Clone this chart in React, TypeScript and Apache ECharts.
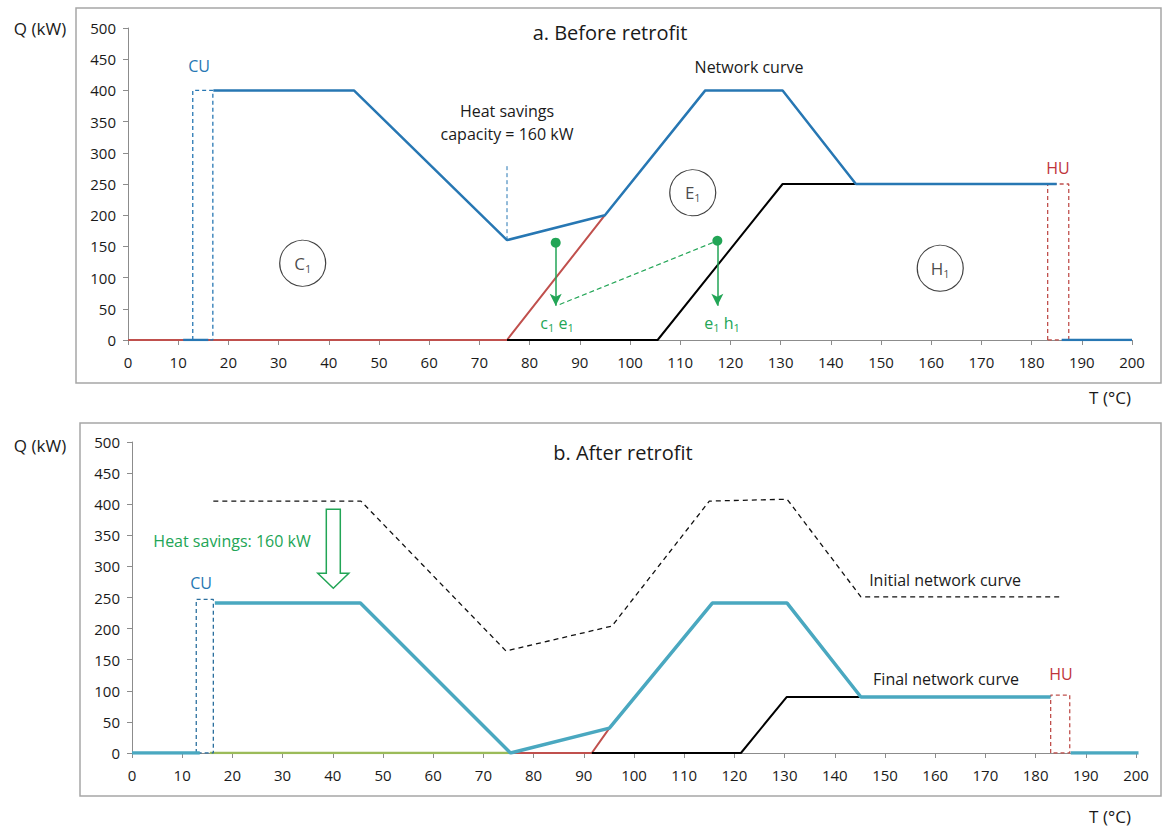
import React, { useEffect, useRef } from "react";
import * as echarts from "echarts";

// ---------- Panel a: Before retrofit ----------
const aNetworkT = [17, 45, 75.5, 95, 115, 130.4, 145, 185];
const aNetworkQ = [400, 400, 160, 200, 400, 400, 250, 250];
const aColdT = [0, 75.5, 95];
const aColdQ = [0, 0, 200];
const aHotT = [75.5, 105.5, 130.4, 145];
const aHotQ = [0, 0, 250, 250];
const aCuT = [12.9, 12.9, 16.9, 16.9, 12.9];
const aCuQ = [0, 400, 400, 0, 0];
const aHuT = [183.2, 183.2, 187.4, 187.4, 183.2];
const aHuQ = [0, 250, 250, 0, 0];
const aZeroLowT = [11, 16];
const aZeroHighT = [186, 200];
const aSavingT = [75.5, 75.5];
const aSavingQ = [160, 283];
const aMoveT = [85.2, 117.4];
const aMoveFromQ = [156, 159];
const aMoveToQ = [55, 55];
const aLinkT = [86, 117.4];
const aLinkQ = [57, 159];
const aZoneLetters = ["C", "E", "H"];
const aZoneT = [34.8, 112.5, 161.8];
const aZoneQ = [123, 236, 115];

// ---------- Panel b: After retrofit ----------
const bInitialT = [16.2, 45.6, 74.5, 95.6, 115, 130.5, 145.2, 185.4];
const bInitialQ = [405, 405, 164, 204, 405, 408, 251, 251];
const bFinalT = [16.5, 45.5, 75.4, 95.1, 115.6, 130.5, 145.2, 183];
const bFinalQ = [241, 241, 0, 40, 241, 241, 90, 90];
const bZeroLowT = [0, 13.5];
const bZeroHighT = [187, 200.5];
const bColdLowT = [15.5, 75.4];
const bColdT = [75.4, 91.6, 95.1];
const bColdQ = [0, 0, 40];
const bHotT = [91.6, 121.3, 130.4, 145.2];
const bHotQ = [0, 0, 90, 90];
const bCuT = [12.8, 12.8, 16.2, 16.2, 12.8];
const bCuQ = [0, 247, 247, 0, 0];
const bHuT = [183, 183, 186.8, 186.8, 183];
const bHuQ = [0, 93, 93, 0, 0];
const bSavingArrow = [40.1, 392, 289, 265]; // T, top, head base, tip

const yTicks = [0, 50, 100, 150, 200, 250, 300, 350, 400, 450, 500];
const xTicks = [0, 10, 20, 30, 40, 50, 60, 70, 80, 90, 100, 110, 120, 130, 140, 150, 160, 170, 180, 190, 200];

const FONT = "'Open Sans', 'Noto Sans', sans-serif";
const INK = "#1A1A1A";
const BLUE = "#2777B3";
const TEAL = "#4AA8C0";
const RED = "#C0504D";
const DRED = "#C0343A";
const GREEN = "#22A556";
const OLIVE = "#9BBB59";

const pts = (t: number[], q: number[]) => t.map((v, i) => [v, q[i]]);

function lineSeries(idx: number, data: number[][], color: string, width: number, type: any = "solid", z = 3) {
  return {
    type: "line",
    xAxisIndex: idx,
    yAxisIndex: idx,
    data,
    symbol: "none",
    z,
    lineStyle: { color, width, type },
  };
}

function xAxis(idx: number) {
  return {
    type: "value",
    gridIndex: idx,
    min: xTicks[0],
    max: xTicks[xTicks.length - 1],
    interval: 10,
    axisLine: { show: true, onZero: false, lineStyle: { color: "#8C8C8C", width: 1 } },
    axisTick: { show: true, length: 5, lineStyle: { color: "#8C8C8C" } },
    axisLabel: { color: INK, fontSize: 15, fontFamily: FONT, margin: 14 },
    splitLine: { show: false },
  };
}
function yAxis(idx: number) {
  return {
    type: "value",
    gridIndex: idx,
    min: yTicks[0],
    max: yTicks[yTicks.length - 1],
    interval: 50,
    axisLine: { show: true, lineStyle: { color: "#8C8C8C", width: 1 } },
    axisTick: { show: true, length: 5, lineStyle: { color: "#8C8C8C" } },
    axisLabel: { color: INK, fontSize: 15, fontFamily: FONT, margin: 12 },
    splitLine: { show: false },
  };
}

// rich styles for series labels (use color)
const seriesRich = {
  m: { fontSize: 17, fontFamily: FONT, color: INK },
  s: { fontSize: 11, fontFamily: FONT, color: INK, padding: [10, 0, 0, 0] },
};
// rich styles for graphic text (use fill)
const greenRich = {
  gm: { fontSize: 16, fontFamily: FONT, fill: GREEN },
  gs: { fontSize: 11, fontFamily: FONT, fill: GREEN, padding: [9, 0, 0, 0] },
};

function txt(text: string, x: number, y: number, size: number, color = INK, align = "center") {
  return {
    type: "text",
    x,
    y,
    z: 50,
    style: { text, fill: color, fontSize: size, fontFamily: FONT, align, verticalAlign: "middle" },
  };
}

export default function App() {
  const ref = useRef<HTMLDivElement>(null);
  useEffect(() => {
    if (!ref.current) return;
    const chart = echarts.init(ref.current, null, { renderer: "svg" });
    const option: any = {
      animation: false,
      backgroundColor: "#fff",
      grid: [
        { left: 128, top: 28, width: 1004, height: 312 },
        { left: 132, top: 442, width: 1004, height: 311 },
      ],
      xAxis: [xAxis(0), xAxis(1)],
      yAxis: [yAxis(0), yAxis(1)],
      graphic: [
        { type: "rect", z: -1, shape: { x: 76, y: 8, width: 1085, height: 375 }, style: { fill: "none", stroke: "#A6A6A6", lineWidth: 1.5 } },
        { type: "rect", z: -1, shape: { x: 80, y: 423, width: 1081, height: 373 }, style: { fill: "none", stroke: "#A6A6A6", lineWidth: 1.5 } },
        txt("Q (kW)", 40, 28, 17),
        txt("Q (kW)", 40, 445, 17),
        txt("T (°C)", 1110, 397, 17),
        txt("T (°C)", 1110, 816, 17),
        txt("a. Before retrofit", 610, 32, 20),
        txt("b. After retrofit", 623, 452, 20),
        txt("Network curve", 749, 67, 16),
        txt("Heat savings", 507, 111, 16),
        txt("capacity = 160 kW", 507, 134, 16),
        txt("CU", 199, 66, 16, BLUE),
        txt("HU", 1058, 168, 16, DRED),
        txt("CU", 201, 583, 16, BLUE),
        txt("HU", 1061, 674, 16, DRED),
        txt("Initial network curve", 945, 580, 16),
        txt("Final network curve", 946, 679, 16),
        txt("Heat savings: 160 kW", 232, 541, 16, GREEN),
        {
          type: "text", x: 557, y: 323, z: 50,
          style: { text: "{gm|c}{gs|1}{gm| e}{gs|1}", rich: greenRich, fill: GREEN, align: "center", verticalAlign: "middle" },
        },
        {
          type: "text", x: 722, y: 323, z: 50,
          style: { text: "{gm|e}{gs|1}{gm| h}{gs|1}", rich: greenRich, fill: GREEN, align: "center", verticalAlign: "middle" },
        },
      ],
      series: [
        // ---- panel a ----
        lineSeries(0, pts(aColdT, aColdQ), RED, 2),
        lineSeries(0, pts(aHotT, aHotQ), "#000", 2),
        lineSeries(0, pts(aNetworkT, aNetworkQ), BLUE, 2.5, "solid", 4),
        lineSeries(0, aZeroLowT.map((t) => [t, 0]), BLUE, 2.5, "solid", 4),
        lineSeries(0, aZeroHighT.map((t) => [t, 0]), BLUE, 2.5, "solid", 4),
        lineSeries(0, pts(aCuT, aCuQ), BLUE, 1.3, [4, 3]),
        lineSeries(0, pts(aHuT, aHuQ), RED, 1.3, [4, 3]),
        lineSeries(0, pts(aSavingT, aSavingQ), BLUE, 1, [4, 3]),
        lineSeries(0, pts(aLinkT, aLinkQ), GREEN, 1.2, [5, 3]),
        {
          type: "line",
          xAxisIndex: 0,
          yAxisIndex: 0,
          data: [],
          markLine: {
            silent: true,
            animation: false,
            label: { show: false },
            lineStyle: { color: GREEN, width: 1.5, type: "solid" },
            data: aMoveT.map((t, i) => [
              { coord: [t, aMoveFromQ[i]], symbol: "circle", symbolSize: 10 },
              { coord: [t, aMoveToQ[i]], symbol: "arrow", symbolSize: [9, 12] },
            ]),
          },
        },
        {
          type: "scatter",
          xAxisIndex: 0,
          yAxisIndex: 0,
          z: 5,
          data: aZoneT.map((t, i) => ({ value: [t, aZoneQ[i]], name: aZoneLetters[i] })),
          symbol: "circle",
          symbolSize: 46,
          itemStyle: { color: "rgba(255,255,255,0)", borderColor: "#111", borderWidth: 1.2 },
          label: {
            show: true,
            position: "inside",
            color: INK,
            formatter: (p: any) => `{m|${p.name}}{s|1}`,
            rich: seriesRich,
          },
        },
        // ---- panel b ----
        lineSeries(1, pts(bInitialT, bInitialQ), "#111", 1.3, [5, 4]),
        lineSeries(1, bColdLowT.map((t) => [t, 0]), OLIVE, 2.5),
        lineSeries(1, pts(bColdT, bColdQ), RED, 2),
        lineSeries(1, pts(bHotT, bHotQ), "#000", 2),
        lineSeries(1, pts(bFinalT, bFinalQ), TEAL, 3.5, "solid", 4),
        lineSeries(1, bZeroLowT.map((t) => [t, 0]), TEAL, 3.5, "solid", 4),
        lineSeries(1, bZeroHighT.map((t) => [t, 0]), TEAL, 3.5, "solid", 4),
        lineSeries(1, pts(bCuT, bCuQ), "#2B6F9E", 1.3, [4, 3]),
        lineSeries(1, pts(bHuT, bHuQ), RED, 1.3, [4, 3]),
        {
          type: "custom",
          xAxisIndex: 1,
          yAxisIndex: 1,
          z: 6,
          data: [bSavingArrow],
          encode: { x: 0, y: 1 },
          renderItem: (_params: any, api: any) => {
            const t = api.value(0);
            const top = api.coord([t, api.value(1)]);
            const base = api.coord([t, api.value(2)]);
            const tip = api.coord([t, api.value(3)]);
            const cx = top[0];
            const sw = 7;
            const hw = 15.5;
            return {
              type: "polygon",
              shape: {
                points: [
                  [cx - sw, top[1]],
                  [cx + sw, top[1]],
                  [cx + sw, base[1]],
                  [cx + hw, base[1]],
                  [cx, tip[1]],
                  [cx - hw, base[1]],
                  [cx - sw, base[1]],
                ],
              },
              style: { fill: "#fff", stroke: GREEN, lineWidth: 1.5 },
            };
          },
        },
      ],
    };
    chart.setOption(option);
    return () => chart.dispose();
  }, []);
  return (
    <div
      ref={ref}
      style={{ position: "fixed", left: 0, top: 0, width: 1163, height: 830, background: "#fff" }}
    />
  );
}
